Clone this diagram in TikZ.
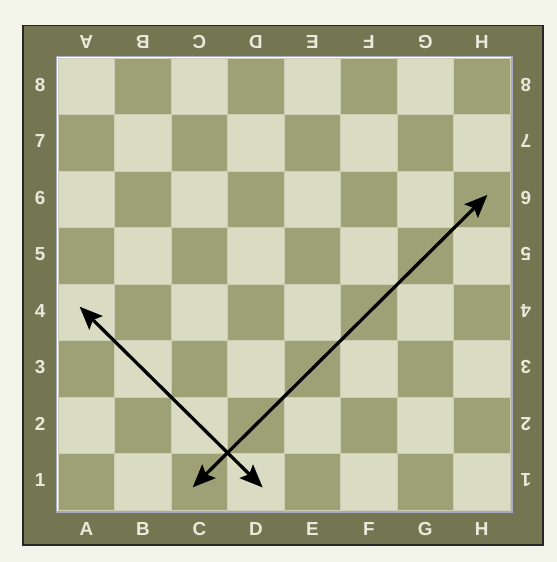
\documentclass[tikz,border=0pt]{standalone}
\usepackage{fontspec}
\setmainfont{Liberation Sans}
\usetikzlibrary{arrows.meta,calc}
\definecolor{bgc}{HTML}{F4F5EA}
\definecolor{framec}{HTML}{747652}
\definecolor{litec}{HTML}{D9DBC3}
\definecolor{darkc}{HTML}{9EA176}
\definecolor{rimc}{HTML}{A9A9C3}
\definecolor{labc}{HTML}{E9EADB}
\tikzset{
  lite/.style={fill=litec, draw=litec!80!darkc, line width=0.4pt},
  darksq/.style={fill=darkc, draw=litec!80!darkc, line width=0.4pt},
  lab/.style={text=labc, font=\bfseries\fontsize{19}{19}\selectfont, inner sep=0pt},
  labflip/.style={lab, rotate=180},
  move/.style={{Stealth[length=23pt,width=19pt,inset=4pt]}-{Stealth[length=23pt,width=19pt,inset=4pt]}, line width=3.3pt, black},
}
\begin{document}
\begin{tikzpicture}[x=2cm,y=2cm]
  \fill[bgc] (-1.03,-0.92) rectangle (8.83,9.03);
  \useasboundingbox (-1.03,-0.92) rectangle (8.83,9.03);
  % frame and rim
  \draw[fill=framec, draw=black!85, line width=1.6pt] (-0.62,-0.62) rectangle (8.58,8.58);
  \draw[fill=white, draw=rimc, line width=1.3pt] (-0.035,-0.035) rectangle (8.035,8.035);
  % squares
  \foreach \c in {0,...,7}{\foreach \r in {0,...,7}{%
    \pgfmathtruncatemacro{\odd}{mod(\c+\r,2)}
    \ifnum\odd=0 \path[darksq] (\c,\r) rectangle ++(1,1);
    \else \path[lite] (\c,\r) rectangle ++(1,1); \fi}}
  % file letters and rank numbers
  \foreach \f [count=\i from 0] in {A,B,C,D,E,F,G,H}{%
    \node[lab] (bot\f) at (\i+0.5,-0.33) {\f};
    \node[labflip] (top\f) at (\i+0.5,8.29) {\f};}
  \foreach \n in {1,...,8}{%
    \node[lab] (left\n) at (-0.32,\n-0.47) {\n};
    \node[labflip] (right\n) at (8.28,\n-0.47) {\n};}
  % moves
  \coordinate (a4) at (0.38,3.60);
  \coordinate (d1) at (3.62,0.40);
  \coordinate (c1) at (2.38,0.40);
  \coordinate (h6) at (7.60,5.58);
  \draw[move] (a4) -- (d1);
  \draw[move] (c1) -- (h6);
\end{tikzpicture}
\end{document}
